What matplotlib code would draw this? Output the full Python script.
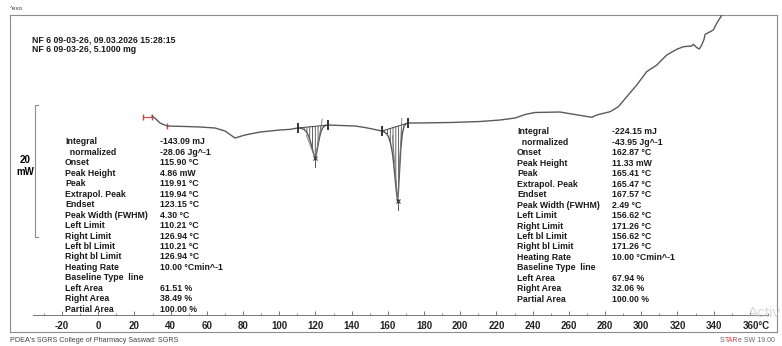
import numpy as np
import matplotlib
matplotlib.use("Agg")
from matplotlib import pyplot as plt
from matplotlib.transforms import ScaledTranslation

plt.rcParams["font.family"] = ["Liberation Sans", "DejaVu Sans"]
plt.rcParams["hatch.linewidth"] = 0.6

W, H = 782, 346

# DSC curve: temperature (°C) vs heat flow (mW, exo up)
temp_c = [
    29.7, 31.9, 34.1, 38.0, 48.0, 56.2, 64.5, 70.1, 75.6, 81.1, 89.4, 100.4, 106.0,
    110.21, 112.0, 113.5, 114.7, 115.7, 116.6, 117.5, 118.4, 119.2, 119.91,
    120.5, 121.3, 122.2, 123.1, 124.2, 125.5, 126.94,
    133.6, 141.9, 147.4, 152.9,
    156.62, 158.0, 159.5, 160.5, 161.5, 162.5, 163.3, 164.0, 164.7, 165.41,
    165.9, 166.5, 167.2, 168.0, 169.0, 170.0, 171.26,
    177.8, 194.4, 210.9, 222.0, 230.3, 235.8, 241.3, 255.1, 263.4, 272.7, 275.4,
    282.8, 287.4, 292.0, 297.5, 303.0, 308.6, 314.1, 319.6, 323.3, 327.9, 328.8,
    330.7, 332.1, 333.4, 334.7, 335.3, 337.1, 339.8, 341.7, 344.8, 347.0,
]
heat_mw = [
    12.73, 12.27, 11.67, 11.21, 11.14, 11.06, 10.91, 10.45, 9.39, 9.85, 10.30, 10.61, 10.70,
    10.91, 10.86, 10.72, 10.45, 10.00, 9.40, 8.60, 7.65, 6.85, 6.31,
    6.90, 8.10, 9.40, 10.40, 11.00, 11.28, 11.36,
    11.29, 11.21, 10.98, 10.68,
    10.45, 10.30, 10.00, 9.50, 8.60, 7.20, 5.30, 3.30, 1.30, -0.15,
    1.50, 4.50, 7.80, 10.00, 11.20, 11.55, 11.67,
    11.67, 11.74, 11.89, 12.12, 12.42, 12.95, 13.26, 13.33, 12.95, 12.53, 12.88,
    13.38, 14.14, 15.65, 17.42, 19.44, 20.45, 21.97, 22.83, 23.23, 23.33, 23.59,
    23.08, 22.88, 23.48, 24.35, 25.11, 25.35, 25.76, 26.77, 28.14, 29.50,
]

# evaluated peaks
peak_left = [110.21, 156.62]
peak_right = [126.94, 171.26]
peak_onset = [115.90, 162.87]
peak_top = [119.91, 165.41]
peak_endset = [123.15, 167.57]

labels = [
    "Integral", "  normalized", "Onset", "Peak Height", "Peak", "Extrapol. Peak",
    "Endset", "Peak Width (FWHM)", "Left Limit", "Right Limit", "Left bl Limit",
    "Right bl Limit", "Heating Rate", "Baseline Type  line", "Left Area",
    "Right Area", "Partial Area",
]
values_1 = [
    "-143.09 mJ", "-28.06 Jg^-1", "115.90 °C", "4.86 mW", "119.91 °C", "119.94 °C",
    "123.15 °C", "4.30 °C", "110.21 °C", "126.94 °C", "110.21 °C", "126.94 °C",
    "10.00 °Cmin^-1", "", "61.51 %", "38.49 %", "100.00 %",
]
values_2 = [
    "-224.15 mJ", "-43.95 Jg^-1", "162.87 °C", "11.33 mW", "165.41 °C", "165.47 °C",
    "167.57 °C", "2.49 °C", "156.62 °C", "171.26 °C", "156.62 °C", "171.26 °C",
    "10.00 °Cmin^-1", "", "67.94 %", "32.06 %", "100.00 %",
]

tick_major = list(range(-20, 361, 20))
tick_minor = list(range(-30, 371, 20))


def px(x, y):
    return x / W, 1 - y / H


fig = plt.figure(figsize=(W / 100, H / 100), dpi=100)
ax = fig.add_axes([10 / W, (H - 332) / H, 767 / W, 317 / H])
ax.set_xlim(-48.73, 375.0)
ax.set_ylim(-20.0, 28.03)
ax.set_xticks([])
ax.set_yticks([])
for s in ax.spines.values():
    s.set_color("#8c8c8c")
    s.set_linewidth(0.8)

line_c = "#5a5a5a"
t = np.array(temp_c)
q = np.array(heat_mw)
ax.plot(t, q, color=line_c, lw=1.0, zorder=3)

# start markers
ax.plot([24.8, 29.7], [12.6, 12.6], color="#e04040", lw=0.8)
ax.plot([24.8, 29.7, 38.0], [12.6, 12.6, 11.21], ls="none", marker="|",
        ms=5, mew=1.0, color="#e04040")

# peak evaluations
for lo, hi, on, pk, en in zip(peak_left, peak_right, peak_onset, peak_top, peak_endset):
    m = (t >= lo) & (t <= hi)
    tp, qp = t[m], q[m]
    b_lo = np.interp(lo, t, q)
    b_hi = np.interp(hi, t, q)
    base = np.interp(tp, [lo, hi], [b_lo, b_hi])
    ax.fill_between(tp, base, qp, facecolor="none", edgecolor="#4a4a4a",
                    hatch="||||||", lw=0, zorder=2)
    ax.plot([lo, hi], [b_lo, b_hi], color="#444444", lw=0.7, zorder=3)
    ax.plot([lo, hi], [b_lo, b_hi], ls="none", marker="|", ms=7, mew=1.4,
            color="#333333", zorder=4)

    tip = np.interp(pk, t, q)
    b_on = np.interp(on, [lo, hi], [b_lo, b_hi])
    b_en = np.interp(en, [lo, hi], [b_lo, b_hi])
    s_on = (tip - b_on) / (pk - on)
    s_en = (b_en - tip) / (en - pk)
    ax.plot([on + 1.2 / s_on, pk], [b_on - 1.2, tip], color="#777777", lw=0.6, zorder=3)
    ax.plot([pk, en + 1.0 / s_en], [tip, b_en + 1.0], color="#777777", lw=0.6, zorder=3)
    ax.plot([pk, pk], [tip + 0.3, tip - 1.3], color="#555555", lw=0.7, zorder=3)
    ax.plot([pk], [tip], marker="x", ms=3, mew=0.8, color="#333333", zorder=4)

# temperature axis
axis_y = -17.42
ax.plot([-36, 370], [axis_y, axis_y], color="#777777", lw=0.7)
ax.vlines(tick_major, axis_y, axis_y + 0.6, color="#777777", lw=0.7)
ax.vlines(tick_minor, axis_y, axis_y + 0.35, color="#777777", lw=0.6)
for v in tick_major[:-1]:
    ax.text(v, -19.05, str(v), ha="center", va="center", fontsize=7,
            fontweight="bold", color="#222222")
ax.text(tick_major[-1], -19.05, f"{tick_major[-1]}°C", ha="left", va="center",
        fontsize=7, fontweight="bold", color="#222222",
        transform=ax.transData + ScaledTranslation(-7 / 100, 0, fig.dpi_scale_trans))

# 20 mW scale bar
ax.plot([-33.2, -34.9, -34.9, -33.2], [14.39, 14.39, -5.61, -5.61], color="#8c8c8c", lw=0.8)
fig.text(*px(25, 160), "20", ha="center", va="center", fontsize=7, fontweight="bold")
fig.text(*px(25, 172), "mW", ha="center", va="center", fontsize=7, fontweight="bold")

# header
fig.text(*px(10, 8), "^exo", ha="left", va="center", fontsize=4.5, color="#333333")
fig.text(*px(32, 40), "NF 6 09-03-26, 09.03.2026 15:28:15", ha="left", va="center",
         fontsize=6.3, fontweight="bold", color="#1a1a1a")
fig.text(*px(32, 50), "NF 6 09-03-26, 5.1000 mg", ha="left", va="center",
         fontsize=6.3, fontweight="bold", color="#1a1a1a")

# result tables
for i, (lab, v1, v2) in enumerate(zip(labels, values_1, values_2)):
    fig.text(*px(65, 142 + i * 10.45), lab, ha="left", va="center", fontsize=6.3,
             fontweight="bold", color="#1a1a1a")
    fig.text(*px(160, 142 + i * 10.45), v1, ha="left", va="center", fontsize=6.3,
             fontweight="bold", color="#1a1a1a")
    fig.text(*px(517, 132 + i * 10.45), lab, ha="left", va="center", fontsize=6.3,
             fontweight="bold", color="#1a1a1a")
    fig.text(*px(612, 132 + i * 10.45), v2, ha="left", va="center", fontsize=6.3,
             fontweight="bold", color="#1a1a1a")

# footer
fig.text(*px(10, 341), "PDEA's SGRS College of Pharmacy Saswad: SGRS", ha="left",
         va="center", fontsize=5.2, color="#444444")
fig.text(*px(720, 341), "S", ha="left", va="center", fontsize=5, color="#666666")
fig.text(*px(725, 341), "TAR", ha="left", va="center", fontsize=5, color="#d84040")
fig.text(*px(738, 341), "e SW 19.00", ha="left", va="center", fontsize=5, color="#666666")
fig.text(*px(781, 313), "Activ", ha="right", va="center", fontsize=11,
         color="#c8c8c8", alpha=0.7)

fig.savefig("out.png", dpi=100)
